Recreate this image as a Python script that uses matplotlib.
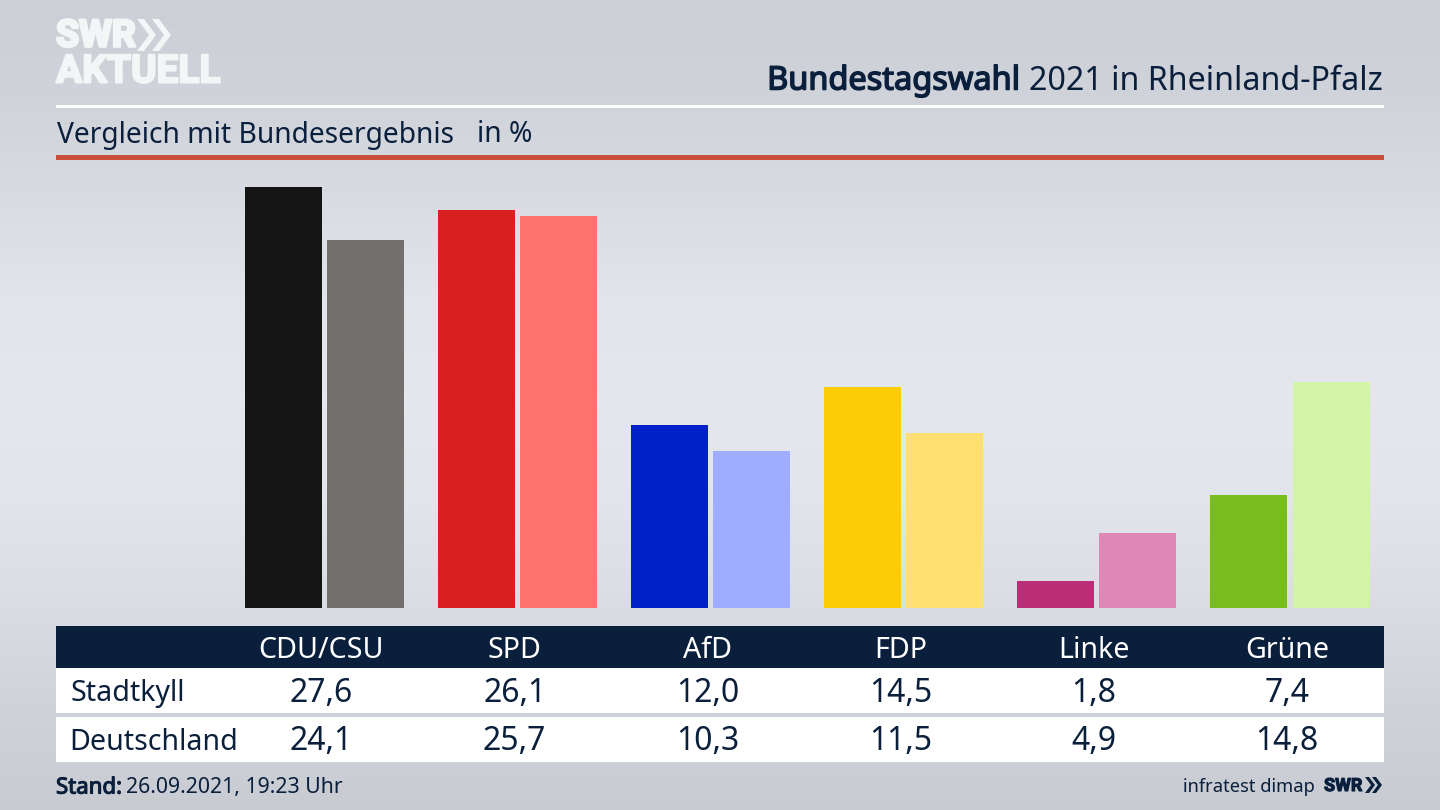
import numpy as np
import matplotlib
matplotlib.use("Agg")
import matplotlib.pyplot as plt
import matplotlib.patheffects as pe
from matplotlib.patches import Polygon, Rectangle

parties = ["CDU/CSU", "SPD", "AfD", "FDP", "Linke", "Grüne"]
stadtkyll = [27.6, 26.1, 12.0, 14.5, 1.8, 7.4]
deutschland = [24.1, 25.7, 10.3, 11.5, 4.9, 14.8]
stadtkyll_labels = ["27,6", "26,1", "12,0", "14,5", "1,8", "7,4"]
deutschland_labels = ["24,1", "25,7", "10,3", "11,5", "4,9", "14,8"]
colors_dark = ["#141414", "#d7201f", "#0021c8", "#ffcc0a", "#bb2d76", "#78bd1c"]
colors_light = ["#71706c", "#ff736e", "#9fadff", "#ffdf70", "#df88b5", "#d2f5a5"]

NAVY = "#0a1f3c"
LOGO = "#f4f5f6"
plt.rcParams["font.family"] = ["Noto Sans", "DejaVu Sans"]


# noto sans kommt hier nur regular, also fett per kontur
def fat(color, width):
    return [pe.withStroke(linewidth=width, foreground=color)]


# doppelpfeil vom swr-logo
def chevrons(x0, top, bottom, w, thick, step, color):
    mid = (top + bottom) / 2
    for x in (x0, x0 + step):
        bg.add_patch(Polygon([(x, top), (x + thick, top), (x + thick + w, mid),
                              (x + thick, bottom), (x, bottom), (x + w, mid)],
                             closed=True, facecolor=color, lw=0, zorder=3))


fig = plt.figure(figsize=(14.4, 8.1), dpi=100)

# hintergrund und alles in pixelkoordinaten
bg = fig.add_axes([0, 0, 1, 1])
bg.set_xlim(0, 1440)
bg.set_ylim(810, 0)
bg.axis("off")
stops_y = [0, 100, 200, 300, 400, 500, 600, 700, 810]
stops_v = [0.80, 0.815, 0.85, 0.885, 0.895, 0.885, 0.855, 0.815, 0.785]
shade = np.interp(np.arange(810), stops_y, stops_v)
gradient = np.stack([shade, shade + 0.012, shade + 0.035], axis=1)[:, None, :]
bg.imshow(np.clip(gradient, 0, 1), extent=[0, 1440, 810, 0], aspect="auto", zorder=0)

# logo
bg.text(56, 36, "SWR", color=LOGO, fontsize=27, fontweight="bold", family="Roboto",
        va="center", ha="left", path_effects=fat(LOGO, 2))
chevrons(137, 19, 51, 12, 7, 15, LOGO)
bg.text(56, 72, "AKTUELL", color=LOGO, fontsize=28, fontweight="bold", family="Roboto",
        va="center", ha="left", path_effects=fat(LOGO, 1.5))

# kopf
bg.text(1020, 81, "Bundestagswahl", color=NAVY, fontsize=23.4, va="center", ha="right",
        path_effects=fat(NAVY, 1.1))
bg.text(1383, 81, "2021 in Rheinland-Pfalz", color=NAVY, fontsize=23.2, va="center", ha="right")
bg.add_patch(Rectangle((56, 105), 1328, 2.5, facecolor="white", lw=0, zorder=2))
bg.text(57, 135, "Vergleich mit Bundesergebnis", color=NAVY, fontsize=20.3, va="center", ha="left")
bg.text(477, 135, "in %", color=NAVY, fontsize=20.3, va="center", ha="left")
bg.add_patch(Rectangle((56, 155), 1328, 5, facecolor="#cb4d3c", lw=0, zorder=2))

# balken
ax = fig.add_axes([56 / 1440, (810 - 608) / 810, 1328 / 1440, 448 / 810])
ax.patch.set_alpha(0)
ax.axis("off")
ax.set_xlim((56 - 324.5) / 193.1, (1384 - 324.5) / 193.1)
ax.set_ylim(0, 448 / 15.25)
pos = np.arange(len(parties))
ax.bar(pos - 0.2125, stadtkyll, width=0.399, color=colors_dark)
ax.bar(pos + 0.2125, deutschland, width=0.399, color=colors_light)

# tabelle
bg.add_patch(Rectangle((56, 626), 1328, 42, facecolor=NAVY, lw=0, zorder=2))
bg.add_patch(Rectangle((56, 668), 1328, 45, facecolor="white", lw=0, zorder=2))
bg.add_patch(Rectangle((56, 717), 1328, 45, facecolor="white", lw=0, zorder=2))
bg.text(71, 694, "Stadtkyll", color=NAVY, fontsize=20.6, va="center", ha="left", zorder=4)
bg.text(69.5, 743, "Deutschland", color=NAVY, fontsize=20.6, va="center", ha="left", zorder=4)
for i, name in enumerate(parties):
    x = 321.5 + 193.1 * i
    bg.text(x, 650, name, color="white", fontsize=20.6, va="center", ha="center", zorder=4)
    bg.text(x, 694, stadtkyll_labels[i], color=NAVY, fontsize=23, va="center", ha="center", zorder=4)
    bg.text(x, 742, deutschland_labels[i], color=NAVY, fontsize=23, va="center", ha="center", zorder=4)

# fuss
bg.text(56, 788, "Stand:", color=NAVY, fontsize=16, va="center", ha="left", path_effects=fat(NAVY, 0.8))
bg.text(126, 788, "26.09.2021, 19:23 Uhr", color=NAVY, fontsize=15.3, va="center", ha="left")
bg.text(1183, 787, "infratest dimap", color=NAVY, fontsize=13.2, va="center", ha="left")
bg.text(1324, 786, "SWR", color=NAVY, fontsize=13, fontweight="bold", family="Roboto",
        va="center", ha="left", path_effects=fat(NAVY, 0.8))
chevrons(1365, 777, 793, 6, 4, 7, NAVY)

fig.savefig("out.png", dpi=100)
